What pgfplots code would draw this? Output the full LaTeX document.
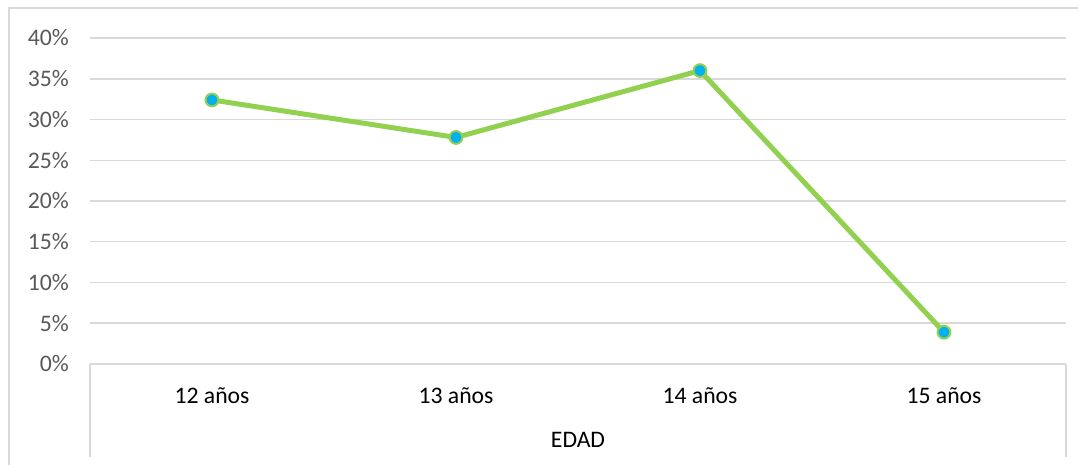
\documentclass[border=0pt]{standalone}
\usepackage{pgfplots}
\pgfplotsset{compat=1.18}
\usepackage{fontspec}
\setmainfont{Carlito}
\definecolor{gridc}{HTML}{D9D9D9}
\definecolor{tickc}{HTML}{595959}
\definecolor{lgreen}{HTML}{92D050}
\definecolor{lblue}{HTML}{00B0F0}
\begin{document}
\begin{tikzpicture}
\path[use as bounding box] (-45pt,-50.5pt) rectangle (494pt,182pt);
\draw[gridc, line width=0.75pt] (-40.5pt,-52pt) -- (-40.5pt,178pt) -- (496pt,178pt);
\begin{axis}[
  at={(0,0)}, anchor=south west,
  width=488pt, height=163pt, scale only axis,
  xmin=-0.5, xmax=3.5, ymin=0, ymax=40,
  xtick={0,1,2,3},
  xticklabels={12 años,13 años,14 años,15 años},
  xticklabel style={font=\fontsize{11.85pt}{14pt}\selectfont, text=black, yshift=-8.5pt},
  major tick length=0pt,
  ytick={0,5,...,40},
  yticklabel={\pgfmathprintnumber{\tick}\%},
  yticklabel style={font=\fontsize{11.85pt}{14pt}\selectfont, text=tickc, xshift=-7pt},
  /pgf/number format/assume math mode=true,
  ymajorgrids, grid style={gridc, line width=0.75pt},
  axis line style={draw=none},
  axis x line*=bottom,
  clip=false,
]
\draw[gridc, line width=0.75pt] (axis cs:-0.5,0) -- (axis cs:3.5,0);
\draw[gridc, line width=0.75pt] (axis cs:-0.5,0) -- ([yshift=-46.5pt]axis cs:-0.5,0);
\draw[gridc, line width=0.75pt] (axis cs:3.5,0) -- ([yshift=-46.5pt]axis cs:3.5,0);
\node[font=\fontsize{11.85pt}{14pt}\selectfont, text=black] at ([yshift=-38pt]axis cs:1.5,0) {EDAD};
\addplot[lgreen, line width=2.5pt, mark=*, mark size=3.2pt,
  mark options={fill=lblue, draw=lgreen, line width=1pt}]
  coordinates {(0,32.4) (1,27.8) (2,36.0) (3,3.9)};
\end{axis}
\end{tikzpicture}
\end{document}
